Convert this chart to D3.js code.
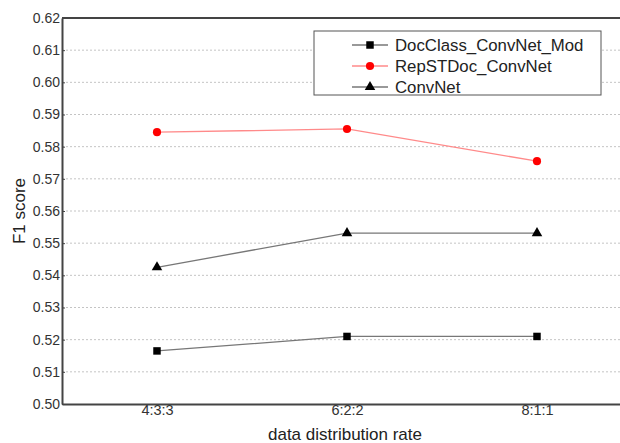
<!DOCTYPE html>
<html>
<head>
<meta charset="utf-8">
<script src="https://cdn.jsdelivr.net/npm/d3@7"></script>
<style>
  body { margin: 0; background: #fff; }
  text { font-family: "Liberation Sans", Arial, sans-serif; fill: #222; }
</style>
</head>
<body>
<div class="chart"></div>
<script>
// Chart data
var rates = ["4:3:3", "6:2:2", "8:1:1"];
var docClassMod = [0.5165, 0.5210, 0.5210];
var repSTDoc = [0.5845, 0.5855, 0.5755];
var convNet = [0.5425, 0.5531, 0.5531];
var yTicks = [0.50, 0.51, 0.52, 0.53, 0.54, 0.55, 0.56, 0.57, 0.58, 0.59, 0.60, 0.61, 0.62];

var series = [
    {name: "DocClass_ConvNet_Mod", values: docClassMod, line: "#777", marker: "square", fill: "#000"},
    {name: "RepSTDoc_ConvNet", values: repSTDoc, line: "#ff8a8a", marker: "circle", fill: "#ff0000"},
    {name: "ConvNet", values: convNet, line: "#777", marker: "triangle", fill: "#000"}
];

var width = 620, height = 443;
var margin = {top: 18, left: 62, right: -12, bottom: 39};

var svg = d3.select(".chart").append("svg")
    .attr("width", width)
    .attr("height", height);

var x = d3.scalePoint()
    .domain(rates)
    .range([margin.left, width - margin.right])
    .padding(0.5);

var y = d3.scaleLinear()
    .domain([0.50, 0.62])
    .range([height - margin.bottom, margin.top]);

// Gridlines
svg.append("g")
    .selectAll("line")
    .data(yTicks.slice(1, -1))
    .enter().append("line")
        .attr("x1", margin.left)
        .attr("x2", width)
        .attr("y1", function(d) { return y(d); })
        .attr("y2", function(d) { return y(d); })
        .attr("stroke", "#c4c4c4")
        .attr("stroke-dasharray", "2,2");

// Axes
var yAxis = svg.append("g")
    .attr("transform", "translate(" + margin.left + ",0)")
    .call(d3.axisLeft(y).tickValues(yTicks).tickFormat(d3.format(".2f")).tickSize(3).tickSizeOuter(0));
yAxis.select(".domain").attr("stroke", "#444").attr("stroke-width", 2);
yAxis.selectAll(".tick line").attr("stroke", "#444").attr("x2", 3);
yAxis.selectAll(".tick text").attr("x", -2).style("font-size", "14px").style("fill", "#333");

var xAxis = svg.append("g")
    .attr("transform", "translate(0," + y(0.50) + ")")
    .call(d3.axisBottom(x).tickSize(0).tickSizeOuter(0));
xAxis.select(".domain").attr("stroke", "#444").attr("stroke-width", 2);
xAxis.selectAll(".tick text").attr("dy", "0.45em").attr("y", 4).style("font-size", "14.5px").style("fill", "#333");

// Top frame line
svg.append("line")
    .attr("x1", margin.left)
    .attr("x2", width)
    .attr("y1", y(0.62))
    .attr("y2", y(0.62))
    .attr("stroke", "#444")
    .attr("stroke-width", 2);

// Axis titles
svg.append("text")
    .attr("x", (margin.left + width) / 2 + 4)
    .attr("y", 440)
    .attr("text-anchor", "middle")
    .style("font-size", "17px")
    .text("data distribution rate");

svg.append("text")
    .attr("transform", "translate(25," + y(0.56) + ") rotate(-90)")
    .attr("text-anchor", "middle")
    .style("font-size", "17px")
    .text("F1 score");

// Marker helper
function markerSize(type) {
    return type === "circle" ? 52 : type === "square" ? 56 : 48;
}
function marker(sel, type, fill) {
    var sym = type === "square" ? d3.symbolSquare : type === "circle" ? d3.symbolCircle : d3.symbolTriangle;
    sel.attr("d", d3.symbol().type(sym).size(markerSize(type))())
        .attr("fill", fill);
}

var line = d3.line()
    .x(function(d, i) { return x(rates[i]); })
    .y(function(d) { return y(d); });

series.forEach(function(s) {
    svg.append("path")
        .datum(s.values)
        .attr("fill", "none")
        .attr("stroke", s.line)
        .attr("stroke-width", 1.3)
        .attr("d", line);

    svg.selectAll(null)
        .data(s.values)
        .enter().append("path")
            .attr("transform", function(d, i) { return "translate(" + x(rates[i]) + "," + y(d) + ")"; })
            .call(marker, s.marker, s.fill);
});

// Legend
var legend = svg.append("g").attr("transform", "translate(314,31)");
legend.append("rect")
    .attr("width", 287)
    .attr("height", 64)
    .attr("fill", "#fff")
    .attr("stroke", "#555")
    .attr("stroke-width", 1);

var rows = legend.selectAll(".row")
    .data(series)
    .enter().append("g")
        .attr("class", "row")
        .attr("transform", function(d, i) { return "translate(0," + (14 + i * 21) + ")"; });

rows.append("line")
    .attr("x1", 38).attr("x2", 74)
    .attr("stroke", function(d) { return d.line; })
    .attr("stroke-width", 1.3);

rows.append("path")
    .attr("transform", "translate(56,0)")
    .each(function(d) {
        d3.select(this).call(marker, d.marker, d.fill);
    });

rows.append("text")
    .attr("x", 81)
    .attr("dy", "0.36em")
    .style("font-size", "16.8px")
    .text(function(d) { return d.name; });
</script>
</body>
</html>
